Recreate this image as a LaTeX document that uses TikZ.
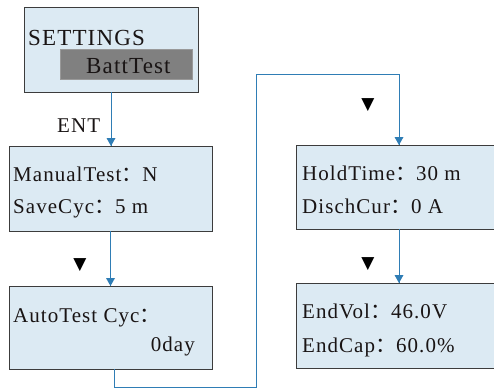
\documentclass[tikz,border=0pt]{standalone}
\usepackage{fontspec}
\setmainfont[LetterSpace=5]{Liberation Serif}
\newfontfamily\cjkfont{Noto Sans CJK SC}
\newfontfamily\symfont{DejaVu Sans}
\usetikzlibrary{arrows.meta,shapes.geometric}
\definecolor{boxfill}{RGB}{220,234,243}
\definecolor{boxline}{RGB}{60,60,60}
\definecolor{barfill}{RGB}{128,128,128}
\definecolor{linkblue}{RGB}{47,125,181}
\definecolor{txt}{RGB}{25,20,20}
\newcommand\wcolon{{\cjkfont ：}}
\begin{document}
\begin{tikzpicture}[x=1pt,y=-1pt,
  box/.style={draw=boxline, fill=boxfill, line width=0.9pt, inner sep=0pt, outer sep=0pt, anchor=north west},
  bar/.style={fill=barfill, draw=barfill!80!white, line width=0.5pt, inner sep=0pt, anchor=north west},
  lbl/.style={inner sep=0pt, anchor=base west, text=txt, font=\fontsize{21}{25}\selectfont},
  big/.style={lbl, font=\fontsize{23}{27}\selectfont},
  link/.style={draw=linkblue, line width=1pt},
  tiphead/.style={isosceles triangle, isosceles triangle stretches, shape border rotate=270,
    minimum width=9pt, minimum height=8pt, inner sep=0pt, outer sep=0pt, fill=linkblue, draw=none, anchor=apex},
  tri/.style={inner sep=0pt, font=\symfont\fontsize{17}{17}\selectfont}
]
\useasboundingbox (0,0) rectangle (494,389);
\fill[white] (0,0) rectangle (494,389);
% boxes
\node[box, minimum width=174pt, minimum height=85pt] (b1) at (24,7) {};
\node[bar, minimum width=132pt, minimum height=30pt] (bar) at (60,49) {};
\node[box, minimum width=203pt, minimum height=85pt] (b2) at (9,146) {};
\node[box, minimum width=203pt, minimum height=83pt] (b3) at (9,286) {};
\node[box, minimum width=202pt, minimum height=84pt] (b4) at (296,145) {};
\node[box, minimum width=202pt, minimum height=85pt] (b5) at (296,283) {};
% texts
\node[big] (t1) at (28,45) {SETTINGS};
\node[big] (t2) at (86,73) {BattTest};
\node[lbl] (ent) at (57,132) {ENT};
\node[lbl] (t3) at (13,181) {ManualTest\wcolon N};
\node[lbl] (t4) at (13,213) {SaveCyc\wcolon 5 m};
\node[lbl] (t5) at (13,322) {AutoTest Cyc\wcolon};
\node[lbl, anchor=base east] (t6) at (195,351) {0day};
\node[lbl] (t7) at (302,180) {HoldTime\wcolon 30 m};
\node[lbl] (t8) at (302,213) {DischCur\wcolon 0 A};
\node[lbl] (t9) at (302,318) {EndVol\wcolon 46.0V};
\node[lbl] (t10) at (302,352) {EndCap\wcolon 60.0\%};
% markers
\node[tri] (m1) at (80,265) {▼};
\node[tri] (m2) at (368,105) {▼};
\node[tri] (m3) at (368,264) {▼};
% connectors
\coordinate (c1) at (256,387);
\coordinate (c2) at (256,74);
\coordinate (e2) at (b1.south |- b2.north);
\coordinate (e4) at ([xshift=2pt]b4.north);
\coordinate (e5) at ([xshift=2pt]b5.north);
\draw[link] (b1.south) -- (e2);
\draw[link] (b2.south) -- (b3.north);
\draw[link] ([xshift=4pt]b3.south) |- (c1) -- (c2) -| (e4);
\draw[link] ([xshift=2pt]b4.south) -- (e5);
\node[tiphead] (h1) at (e2) {};
\node[tiphead] (h2) at (b3.north) {};
\node[tiphead] (h3) at (e4) {};
\node[tiphead] (h4) at (e5) {};
\end{tikzpicture}
\end{document}
